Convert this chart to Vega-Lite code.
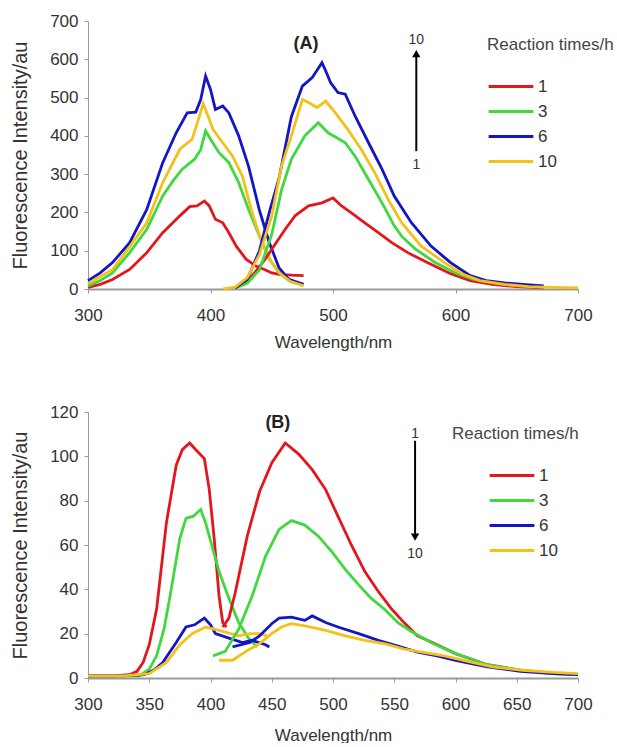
{
  "$schema": "https://vega.github.io/schema/vega-lite/v6.json",
  "padding": {"left": 10, "top": 12, "right": 0, "bottom": 0},
  "background": "white",
  "spacing": 53,
  "config": {
    "font": "Liberation Sans",
    "view": {"stroke": null},
    "axis": {"grid": false, "labelFontSize": 17, "labelColor": "#333", "titleFontSize": 17, "titleFontWeight": "normal", "titleColor": "#333", "domainColor": "#999", "tickColor": "#999", "tickSize": 4, "labelOverlap": false, "labelFlush": false, "labelSeparation": 0},
    "axisX": {"labelPadding": 14, "titlePadding": 11, "domainWidth": 2},
    "axisY": {"labelPadding": 6, "titlePadding": 19, "titleFontSize": 20},
    "legend": {"labelFontSize": 17, "titleFontSize": 17, "titleFontWeight": "normal", "titleColor": "#444", "labelColor": "#333", "symbolType": "stroke", "symbolSize": 2000, "symbolStrokeWidth": 3, "labelOffset": 3, "rowPadding": 7, "clipHeight": 17, "titlePadding": 24}
  },
  "datasets": {
    "a": [
      {"t":"1","s":"ex","x":300,"y":4},{"t":"1","s":"ex","x":310,"y":12},{"t":"1","s":"ex","x":320,"y":25},{"t":"1","s":"ex","x":334,"y":51},{"t":"1","s":"ex","x":348,"y":95},{"t":"1","s":"ex","x":361,"y":147},{"t":"1","s":"ex","x":375,"y":191},{"t":"1","s":"ex","x":383,"y":215},{"t":"1","s":"ex","x":389,"y":217},{"t":"1","s":"ex","x":395,"y":230},{"t":"1","s":"ex","x":399,"y":217},{"t":"1","s":"ex","x":404,"y":182},{"t":"1","s":"ex","x":410,"y":173},{"t":"1","s":"ex","x":415,"y":147},{"t":"1","s":"ex","x":421,"y":112},{"t":"1","s":"ex","x":429,"y":78},{"t":"1","s":"ex","x":437,"y":60},{"t":"1","s":"ex","x":444,"y":51},{"t":"1","s":"ex","x":450,"y":42},{"t":"1","s":"ex","x":456,"y":38},{"t":"1","s":"ex","x":466,"y":36},{"t":"1","s":"ex","x":476,"y":35},
      {"t":"3","s":"ex","x":300,"y":8},{"t":"3","s":"ex","x":310,"y":22},{"t":"3","s":"ex","x":320,"y":42},{"t":"3","s":"ex","x":334,"y":95},{"t":"3","s":"ex","x":348,"y":156},{"t":"3","s":"ex","x":361,"y":243},{"t":"3","s":"ex","x":370,"y":285},{"t":"3","s":"ex","x":377,"y":313},{"t":"3","s":"ex","x":387,"y":339},{"t":"3","s":"ex","x":392,"y":364},{"t":"3","s":"ex","x":396,"y":413},{"t":"3","s":"ex","x":400,"y":391},{"t":"3","s":"ex","x":407,"y":356},{"t":"3","s":"ex","x":415,"y":330},{"t":"3","s":"ex","x":423,"y":278},{"t":"3","s":"ex","x":431,"y":208},{"t":"3","s":"ex","x":440,"y":138},{"t":"3","s":"ex","x":448,"y":78},{"t":"3","s":"ex","x":456,"y":42},{"t":"3","s":"ex","x":465,"y":20},{"t":"3","s":"ex","x":475,"y":12},
      {"t":"6","s":"ex","x":300,"y":22},{"t":"6","s":"ex","x":310,"y":42},{"t":"6","s":"ex","x":320,"y":69},{"t":"6","s":"ex","x":334,"y":121},{"t":"6","s":"ex","x":348,"y":208},{"t":"6","s":"ex","x":361,"y":330},{"t":"6","s":"ex","x":372,"y":408},{"t":"6","s":"ex","x":381,"y":460},{"t":"6","s":"ex","x":388,"y":462},{"t":"6","s":"ex","x":392,"y":495},{"t":"6","s":"ex","x":396,"y":556},{"t":"6","s":"ex","x":400,"y":521},{"t":"6","s":"ex","x":404,"y":469},{"t":"6","s":"ex","x":410,"y":478},{"t":"6","s":"ex","x":415,"y":460},{"t":"6","s":"ex","x":423,"y":400},{"t":"6","s":"ex","x":431,"y":321},{"t":"6","s":"ex","x":440,"y":205},{"t":"6","s":"ex","x":448,"y":121},{"t":"6","s":"ex","x":456,"y":55},{"t":"6","s":"ex","x":464,"y":25},{"t":"6","s":"ex","x":476,"y":12},
      {"t":"10","s":"ex","x":300,"y":14},{"t":"10","s":"ex","x":310,"y":32},{"t":"10","s":"ex","x":320,"y":51},{"t":"10","s":"ex","x":334,"y":110},{"t":"10","s":"ex","x":348,"y":173},{"t":"10","s":"ex","x":361,"y":278},{"t":"10","s":"ex","x":375,"y":365},{"t":"10","s":"ex","x":385,"y":391},{"t":"10","s":"ex","x":391,"y":452},{"t":"10","s":"ex","x":394,"y":484},{"t":"10","s":"ex","x":398,"y":452},{"t":"10","s":"ex","x":402,"y":417},{"t":"10","s":"ex","x":410,"y":382},{"t":"10","s":"ex","x":418,"y":347},{"t":"10","s":"ex","x":426,"y":295},{"t":"10","s":"ex","x":434,"y":199},{"t":"10","s":"ex","x":442,"y":121},{"t":"10","s":"ex","x":450,"y":69},{"t":"10","s":"ex","x":456,"y":43},{"t":"10","s":"ex","x":465,"y":20},{"t":"10","s":"ex","x":476,"y":8},
      {"t":"1","s":"em","x":420,"y":3},{"t":"1","s":"em","x":430,"y":20},{"t":"1","s":"em","x":438,"y":50},{"t":"1","s":"em","x":445,"y":80},{"t":"1","s":"em","x":450,"y":104},{"t":"1","s":"em","x":461,"y":156},{"t":"1","s":"em","x":469,"y":191},{"t":"1","s":"em","x":480,"y":217},{"t":"1","s":"em","x":491,"y":225},{"t":"1","s":"em","x":500,"y":238},{"t":"1","s":"em","x":507,"y":217},{"t":"1","s":"em","x":515,"y":199},{"t":"1","s":"em","x":526,"y":173},{"t":"1","s":"em","x":537,"y":147},{"t":"1","s":"em","x":548,"y":121},{"t":"1","s":"em","x":561,"y":95},{"t":"1","s":"em","x":577,"y":69},{"t":"1","s":"em","x":596,"y":40},{"t":"1","s":"em","x":612,"y":22},{"t":"1","s":"em","x":630,"y":12},{"t":"1","s":"em","x":650,"y":6},{"t":"1","s":"em","x":672,"y":3},
      {"t":"3","s":"em","x":420,"y":2},{"t":"3","s":"em","x":430,"y":15},{"t":"3","s":"em","x":440,"y":50},{"t":"3","s":"em","x":450,"y":143},{"t":"3","s":"em","x":458,"y":259},{"t":"3","s":"em","x":466,"y":339},{"t":"3","s":"em","x":477,"y":400},{"t":"3","s":"em","x":488,"y":434},{"t":"3","s":"em","x":496,"y":408},{"t":"3","s":"em","x":503,"y":395},{"t":"3","s":"em","x":510,"y":382},{"t":"3","s":"em","x":518,"y":347},{"t":"3","s":"em","x":529,"y":286},{"t":"3","s":"em","x":540,"y":225},{"t":"3","s":"em","x":550,"y":165},{"t":"3","s":"em","x":556,"y":138},{"t":"3","s":"em","x":567,"y":105},{"t":"3","s":"em","x":583,"y":70},{"t":"3","s":"em","x":600,"y":42},{"t":"3","s":"em","x":615,"y":25},{"t":"3","s":"em","x":635,"y":14},{"t":"3","s":"em","x":655,"y":8},{"t":"3","s":"em","x":672,"y":5},
      {"t":"6","s":"em","x":420,"y":2},{"t":"6","s":"em","x":430,"y":25},{"t":"6","s":"em","x":440,"y":100},{"t":"6","s":"em","x":448,"y":200},{"t":"6","s":"em","x":456,"y":290},{"t":"6","s":"em","x":466,"y":450},{"t":"6","s":"em","x":475,"y":530},{"t":"6","s":"em","x":483,"y":552},{"t":"6","s":"em","x":491,"y":591},{"t":"6","s":"em","x":494,"y":570},{"t":"6","s":"em","x":498,"y":539},{"t":"6","s":"em","x":504,"y":513},{"t":"6","s":"em","x":510,"y":509},{"t":"6","s":"em","x":518,"y":452},{"t":"6","s":"em","x":529,"y":382},{"t":"6","s":"em","x":540,"y":313},{"t":"6","s":"em","x":550,"y":243},{"t":"6","s":"em","x":564,"y":173},{"t":"6","s":"em","x":580,"y":112},{"t":"6","s":"em","x":596,"y":69},{"t":"6","s":"em","x":612,"y":35},{"t":"6","s":"em","x":625,"y":22},{"t":"6","s":"em","x":640,"y":16},{"t":"6","s":"em","x":655,"y":12},{"t":"6","s":"em","x":672,"y":8},
      {"t":"10","s":"em","x":410,"y":0},{"t":"10","s":"em","x":420,"y":5},{"t":"10","s":"em","x":430,"y":30},{"t":"10","s":"em","x":440,"y":90},{"t":"10","s":"em","x":450,"y":191},{"t":"10","s":"em","x":458,"y":321},{"t":"10","s":"em","x":466,"y":400},{"t":"10","s":"em","x":475,"y":495},{"t":"10","s":"em","x":480,"y":487},{"t":"10","s":"em","x":487,"y":474},{"t":"10","s":"em","x":494,"y":491},{"t":"10","s":"em","x":502,"y":460},{"t":"10","s":"em","x":512,"y":417},{"t":"10","s":"em","x":523,"y":365},{"t":"10","s":"em","x":534,"y":304},{"t":"10","s":"em","x":545,"y":234},{"t":"10","s":"em","x":556,"y":173},{"t":"10","s":"em","x":572,"y":112},{"t":"10","s":"em","x":591,"y":69},{"t":"10","s":"em","x":605,"y":40},{"t":"10","s":"em","x":620,"y":22},{"t":"10","s":"em","x":640,"y":12},{"t":"10","s":"em","x":660,"y":6},{"t":"10","s":"em","x":680,"y":4},{"t":"10","s":"em","x":700,"y":3}
    ],
    "b": [
      {"t":"1","s":"ex","x":300,"y":1},{"t":"1","s":"ex","x":320,"y":1},{"t":"1","s":"ex","x":334,"y":1.5},{"t":"1","s":"ex","x":340,"y":3},{"t":"1","s":"ex","x":345,"y":7},{"t":"1","s":"ex","x":350,"y":15},{"t":"1","s":"ex","x":356,"y":31},{"t":"1","s":"ex","x":364,"y":70},{"t":"1","s":"ex","x":372,"y":96},{"t":"1","s":"ex","x":377,"y":103},{"t":"1","s":"ex","x":383,"y":106},{"t":"1","s":"ex","x":388,"y":103},{"t":"1","s":"ex","x":395,"y":99},{"t":"1","s":"ex","x":399,"y":85},{"t":"1","s":"ex","x":403,"y":63},{"t":"1","s":"ex","x":407,"y":37},{"t":"1","s":"ex","x":410,"y":25},{"t":"1","s":"ex","x":413,"y":23},
      {"t":"3","s":"ex","x":300,"y":1},{"t":"3","s":"ex","x":330,"y":1},{"t":"3","s":"ex","x":342,"y":1},{"t":"3","s":"ex","x":350,"y":4},{"t":"3","s":"ex","x":356,"y":10},{"t":"3","s":"ex","x":362,"y":22},{"t":"3","s":"ex","x":367,"y":37},{"t":"3","s":"ex","x":375,"y":63},{"t":"3","s":"ex","x":380,"y":72},{"t":"3","s":"ex","x":386,"y":73},{"t":"3","s":"ex","x":392,"y":76},{"t":"3","s":"ex","x":396,"y":70},{"t":"3","s":"ex","x":402,"y":58},{"t":"3","s":"ex","x":407,"y":48},{"t":"3","s":"ex","x":415,"y":36},{"t":"3","s":"ex","x":423,"y":25},{"t":"3","s":"ex","x":431,"y":18},{"t":"3","s":"ex","x":438,"y":14},
      {"t":"6","s":"ex","x":300,"y":1},{"t":"6","s":"ex","x":330,"y":1},{"t":"6","s":"ex","x":346,"y":1.5},{"t":"6","s":"ex","x":355,"y":4},{"t":"6","s":"ex","x":361,"y":7},{"t":"6","s":"ex","x":372,"y":16},{"t":"6","s":"ex","x":380,"y":23},{"t":"6","s":"ex","x":387,"y":24},{"t":"6","s":"ex","x":395,"y":27},{"t":"6","s":"ex","x":400,"y":24},{"t":"6","s":"ex","x":404,"y":20},{"t":"6","s":"ex","x":415,"y":18},{"t":"6","s":"ex","x":426,"y":16},{"t":"6","s":"ex","x":434,"y":17},{"t":"6","s":"ex","x":445,"y":15},{"t":"6","s":"ex","x":448,"y":14},
      {"t":"10","s":"ex","x":300,"y":1},{"t":"10","s":"ex","x":330,"y":1},{"t":"10","s":"ex","x":350,"y":2},{"t":"10","s":"ex","x":364,"y":7},{"t":"10","s":"ex","x":375,"y":15},{"t":"10","s":"ex","x":385,"y":20},{"t":"10","s":"ex","x":396,"y":23},{"t":"10","s":"ex","x":407,"y":21.5},{"t":"10","s":"ex","x":423,"y":19},{"t":"10","s":"ex","x":432,"y":20},{"t":"10","s":"ex","x":440,"y":20},{"t":"10","s":"ex","x":446,"y":19},
      {"t":"1","s":"em","x":410,"y":23},{"t":"1","s":"em","x":415,"y":27},{"t":"1","s":"em","x":420,"y":38},{"t":"1","s":"em","x":430,"y":64},{"t":"1","s":"em","x":440,"y":84},{"t":"1","s":"em","x":450,"y":97},{"t":"1","s":"em","x":461,"y":106},{"t":"1","s":"em","x":472,"y":101},{"t":"1","s":"em","x":483,"y":94},{"t":"1","s":"em","x":494,"y":85},{"t":"1","s":"em","x":504,"y":73},{"t":"1","s":"em","x":515,"y":60},{"t":"1","s":"em","x":526,"y":48},{"t":"1","s":"em","x":537,"y":39},{"t":"1","s":"em","x":548,"y":31},{"t":"1","s":"em","x":558,"y":25},{"t":"1","s":"em","x":569,"y":19},{"t":"1","s":"em","x":585,"y":15},{"t":"1","s":"em","x":600,"y":11},{"t":"1","s":"em","x":626,"y":6},{"t":"1","s":"em","x":653,"y":3.5},{"t":"1","s":"em","x":680,"y":2},{"t":"1","s":"em","x":700,"y":1.5},
      {"t":"3","s":"em","x":402,"y":10},{"t":"3","s":"em","x":412,"y":12},{"t":"3","s":"em","x":423,"y":22},{"t":"3","s":"em","x":434,"y":37},{"t":"3","s":"em","x":445,"y":55},{"t":"3","s":"em","x":456,"y":67},{"t":"3","s":"em","x":466,"y":71},{"t":"3","s":"em","x":477,"y":69},{"t":"3","s":"em","x":488,"y":64},{"t":"3","s":"em","x":499,"y":57},{"t":"3","s":"em","x":510,"y":49},{"t":"3","s":"em","x":521,"y":42},{"t":"3","s":"em","x":531,"y":36},{"t":"3","s":"em","x":542,"y":31},{"t":"3","s":"em","x":553,"y":25},{"t":"3","s":"em","x":564,"y":21},{"t":"3","s":"em","x":580,"y":16},{"t":"3","s":"em","x":600,"y":11},{"t":"3","s":"em","x":626,"y":6},{"t":"3","s":"em","x":653,"y":3.5},{"t":"3","s":"em","x":680,"y":2},{"t":"3","s":"em","x":700,"y":1.5},
      {"t":"6","s":"em","x":418,"y":14},{"t":"6","s":"em","x":432,"y":16},{"t":"6","s":"em","x":440,"y":19},{"t":"6","s":"em","x":450,"y":24.5},{"t":"6","s":"em","x":456,"y":27},{"t":"6","s":"em","x":466,"y":27.5},{"t":"6","s":"em","x":477,"y":26},{"t":"6","s":"em","x":483,"y":28},{"t":"6","s":"em","x":494,"y":25},{"t":"6","s":"em","x":504,"y":23},{"t":"6","s":"em","x":521,"y":20},{"t":"6","s":"em","x":537,"y":17},{"t":"6","s":"em","x":553,"y":14.4},{"t":"6","s":"em","x":569,"y":11.7},{"t":"6","s":"em","x":585,"y":10},{"t":"6","s":"em","x":600,"y":8},{"t":"6","s":"em","x":626,"y":5},{"t":"6","s":"em","x":653,"y":3},{"t":"6","s":"em","x":680,"y":2},{"t":"6","s":"em","x":700,"y":1.5},
      {"t":"10","s":"em","x":407,"y":8},{"t":"10","s":"em","x":418,"y":8},{"t":"10","s":"em","x":429,"y":12},{"t":"10","s":"em","x":440,"y":15.5},{"t":"10","s":"em","x":450,"y":20},{"t":"10","s":"em","x":458,"y":23},{"t":"10","s":"em","x":466,"y":24.5},{"t":"10","s":"em","x":477,"y":23.5},{"t":"10","s":"em","x":494,"y":21.5},{"t":"10","s":"em","x":510,"y":19},{"t":"10","s":"em","x":526,"y":17},{"t":"10","s":"em","x":542,"y":15.5},{"t":"10","s":"em","x":558,"y":13},{"t":"10","s":"em","x":575,"y":11.4},{"t":"10","s":"em","x":591,"y":10},{"t":"10","s":"em","x":610,"y":7.5},{"t":"10","s":"em","x":630,"y":5},{"t":"10","s":"em","x":655,"y":3.5},{"t":"10","s":"em","x":680,"y":2.5},{"t":"10","s":"em","x":700,"y":2}
    ]
  },
  "resolve": {"legend": {"color": "independent"}},
  "vconcat": [
    {
      "width": 490,
      "height": 268,
      "layer": [
        {
          "data": {"name": "a"},
          "mark": {"type": "line", "strokeWidth": 2.8},
          "encoding": {
            "x": {"field": "x", "type": "quantitative", "scale": {"domain": [300, 700], "nice": false}, "axis": {"values": [300, 400, 500, 600, 700], "title": "Wavelength/nm", "labelOverlap": false}},
            "y": {"field": "y", "type": "quantitative", "scale": {"domain": [0, 700], "nice": false}, "axis": {"values": [0, 100, 200, 300, 400, 500, 600, 700], "tickCount": 8, "labelOverlap": false, "title": "Fluorescence Intensity/au"}},
            "color": {"field": "t", "type": "nominal", "scale": {"domain": ["1", "3", "6", "10"], "range": ["#e3161c", "#3fd83f", "#1515c8", "#f2c21a"]}, "legend": {"orient": "none", "legendX": 399, "legendY": 16, "title": "Reaction times/h"}},
            "detail": {"field": "s"}
          }
        },
        {
          "data": {"values": [{"label": "(A)"}]},
          "mark": {"type": "text", "fontSize": 18, "fontWeight": "bold", "color": "#222"},
          "encoding": {"x": {"datum": 478}, "y": {"datum": 639}, "text": {"field": "label"}}
        },
        {
          "data": {"values": [{"label": "arrow"}]},
          "mark": {"type": "rule", "strokeWidth": 2, "color": "black"},
          "encoding": {"x": {"datum": 568}, "y": {"datum": 360}, "y2": {"datum": 612}}
        },
        {
          "data": {"values": [{"label": "arrow"}]},
          "mark": {"type": "point", "shape": "triangle-up", "filled": true, "size": 70, "color": "black", "opacity": 1},
          "encoding": {"x": {"datum": 568}, "y": {"datum": 615}}
        },
        {
          "data": {"values": [{"label": "10", "v": 650}, {"label": "1", "v": 325}]},
          "mark": {"type": "text", "fontSize": 14, "color": "#333"},
          "encoding": {"x": {"datum": 568}, "y": {"field": "v", "type": "quantitative"}, "text": {"field": "label"}}
        }
      ]
    },
    {
      "width": 490,
      "height": 266,
      "layer": [
        {
          "data": {"name": "b"},
          "mark": {"type": "line", "strokeWidth": 2.8},
          "encoding": {
            "x": {"field": "x", "type": "quantitative", "scale": {"domain": [300, 700], "nice": false}, "axis": {"values": [300, 350, 400, 450, 500, 550, 600, 650, 700], "title": "Wavelength/nm", "titlePadding": 15, "labelOverlap": false}},
            "y": {"field": "y", "type": "quantitative", "scale": {"domain": [0, 120], "nice": false}, "axis": {"values": [0, 20, 40, 60, 80, 100, 120], "labelOverlap": false, "title": "Fluorescence Intensity/au"}},
            "color": {"field": "t", "type": "nominal", "scale": {"domain": ["1", "3", "6", "10"], "range": ["#e3161c", "#3fd83f", "#1515c8", "#f2c21a"]}, "legend": {"orient": "none", "legendX": 364, "legendY": 14, "title": "Reaction times/h", "symbolOffset": 36}},
            "detail": {"field": "s"}
          }
        },
        {
          "data": {"values": [{"label": "(B)"}]},
          "mark": {"type": "text", "fontSize": 18, "fontWeight": "bold", "color": "#222"},
          "encoding": {"x": {"datum": 455}, "y": {"datum": 115}, "text": {"field": "label"}}
        },
        {
          "data": {"values": [{"label": "arrow"}]},
          "mark": {"type": "rule", "strokeWidth": 2, "color": "black"},
          "encoding": {"x": {"datum": 567}, "y": {"datum": 107}, "y2": {"datum": 65}}
        },
        {
          "data": {"values": [{"label": "arrow"}]},
          "mark": {"type": "point", "shape": "triangle-down", "filled": true, "size": 70, "color": "black", "opacity": 1},
          "encoding": {"x": {"datum": 567}, "y": {"datum": 63.5}}
        },
        {
          "data": {"values": [{"label": "1", "v": 110}, {"label": "10", "v": 56}]},
          "mark": {"type": "text", "fontSize": 14, "color": "#333"},
          "encoding": {"x": {"datum": 567}, "y": {"field": "v", "type": "quantitative"}, "text": {"field": "label"}}
        }
      ]
    }
  ]
}
